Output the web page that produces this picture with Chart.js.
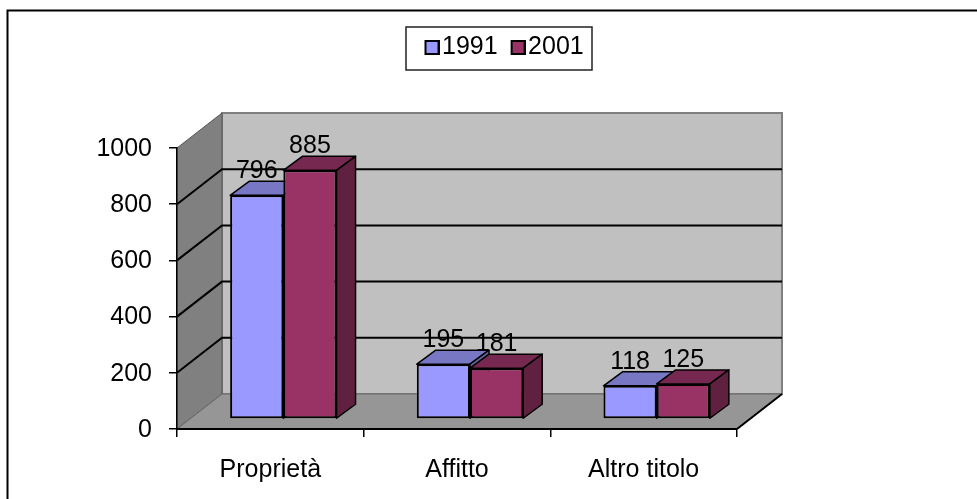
<!DOCTYPE html>
<html><head><meta charset="utf-8">
<style>html,body{margin:0;padding:0;background:#fff}canvas{display:block}</style>
<script src="https://cdn.jsdelivr.net/npm/chart.js@4/dist/chart.umd.min.js"></script>
</head><body><canvas id="c" width="977" height="499"></canvas>
<script>
const categories = ['Proprietà', 'Affitto', 'Altro titolo'];
const seriesNames = ['1991', '2001'];
const values1991 = [796, 195, 118];
const values2001 = [885, 181, 125];
const yTicks = [0, 200, 400, 600, 800, 1000];
const frontColors = ['#9999FF', '#993366'];
const topColors = ['#7777C4', '#772850'];
const sideColors = ['#6666A3', '#602040'];

const FONT = 'Liberation Sans, Arial, sans-serif';
const FONT_SIZE = 25;
const AREA = {left: 177, top: 148, right: 737, bottom: 429};
const WALL = {dx: 45, dy: -35};
const BAR_SHIFT = {dx: 13, dy: -10};
const BAR_DEPTH = {dx: 19, dy: -14};
const LEGEND_BOX = {x: 406, y: 27, w: 186, h: 43};

function poly(ctx, pts, fill, stroke, lw) {
  ctx.beginPath();
  pts.forEach((p, i) => i ? ctx.lineTo(p[0], p[1]) : ctx.moveTo(p[0], p[1]));
  ctx.closePath();
  if (fill) { ctx.fillStyle = fill; ctx.fill(); }
  if (stroke) { ctx.strokeStyle = stroke; ctx.lineWidth = lw || 1; ctx.stroke(); }
}
function swatch(color) {
  const s = document.createElement('canvas');
  s.width = 21; s.height = 15;
  const g = s.getContext('2d');
  g.fillStyle = color; g.fillRect(6, 0, 15, 15);
  g.strokeStyle = '#000'; g.lineWidth = 2; g.strokeRect(7, 1, 13, 13);
  return s;
}
const swatches = frontColors.map(swatch);

const scene = {
  id: 'scene',
  afterLayout(chart) {
    const l = chart.legend;
    l.left = 411.5; l.right = 620; l.top = 18; l.bottom = 62;
  },
  beforeDraw(chart) {
    const ctx = chart.ctx, a = chart.chartArea, y = chart.scales.y;
    const d = WALL;
    ctx.save();
    ctx.strokeStyle = '#000'; ctx.lineWidth = 2;
    ctx.beginPath(); ctx.moveTo(7.5, 499); ctx.lineTo(7.5, 10.5); ctx.lineTo(977, 10.5); ctx.stroke();
    ctx.strokeStyle = '#222'; ctx.lineWidth = 1.5;
    ctx.strokeRect(LEGEND_BOX.x, LEGEND_BOX.y, LEGEND_BOX.w, LEGEND_BOX.h);
    const t = a.top, b = a.bottom, lft = a.left, r = a.right;
    poly(ctx, [[lft + d.dx, t + d.dy], [r + d.dx, t + d.dy], [r + d.dx, b + d.dy], [lft + d.dx, b + d.dy]], '#C0C0C0', '#808080', 2);
    poly(ctx, [[lft, t], [lft + d.dx, t + d.dy], [lft + d.dx, b + d.dy], [lft, b]], '#808080', '#555', 1);
    poly(ctx, [[lft, b], [lft + d.dx, b + d.dy], [r + d.dx, b + d.dy], [r, b]], '#969696', '#666', 1);
    ctx.strokeStyle = '#000'; ctx.lineWidth = 2;
    yTicks.slice(1, -1).forEach(v => {
      const py = y.getPixelForValue(v);
      ctx.beginPath(); ctx.moveTo(lft, py); ctx.lineTo(lft + d.dx, py + d.dy); ctx.lineTo(r + d.dx, py + d.dy); ctx.stroke();
    });
    ctx.beginPath(); ctx.moveTo(r, b); ctx.lineTo(r + d.dx, b + d.dy); ctx.stroke();
    ctx.restore();
  },
  beforeDatasetsDraw(chart) {
    const ctx = chart.ctx, d = BAR_DEPTH;
    ctx.save();
    ctx.translate(BAR_SHIFT.dx, BAR_SHIFT.dy);
    ctx.lineJoin = 'round';
    chart.data.datasets.forEach((ds, i) => {
      chart.getDatasetMeta(i).data.forEach(el => {
        const p = el.getProps(['x', 'y', 'base', 'width']);
        const l = p.x - p.width / 2, r = p.x + p.width / 2;
        poly(ctx, [[l, p.y], [l + d.dx, p.y + d.dy], [r + d.dx, p.y + d.dy], [r, p.y]], topColors[i], '#000', 1.5);
        poly(ctx, [[r, p.y], [r + d.dx, p.y + d.dy], [r + d.dx, p.base + d.dy], [r, p.base]], sideColors[i], '#000', 1.5);
        el.draw(ctx);
      });
    });
    ctx.fillStyle = '#000';
    ctx.font = FONT_SIZE + 'px ' + FONT;
    ctx.textAlign = 'center';
    ctx.textBaseline = 'alphabetic';
    chart.data.datasets.forEach((ds, i) => {
      chart.getDatasetMeta(i).data.forEach((el, j) => {
        ctx.fillText(String(ds.data[j]), el.x, el.y - 17);
      });
    });
    ctx.restore();
    return false;
  }
};

const chart = new Chart(document.getElementById('c'), {
  type: 'bar',
  data: {
    labels: categories,
    datasets: [
      {label: seriesNames[0], data: values1991, backgroundColor: frontColors[0], borderColor: '#000', borderWidth: 2, borderSkipped: false},
      {label: seriesNames[1], data: values2001, backgroundColor: frontColors[1], borderColor: '#000', borderWidth: 2, borderSkipped: false}
    ]
  },
  options: {
    responsive: false, animation: false, events: [],
    layout: {padding: {left: 0, right: 240, top: 80, bottom: 0}},
    datasets: {bar: {categoryPercentage: 0.57, barPercentage: 1}},
    plugins: {
      tooltip: {enabled: false},
      title: {display: false},
      legend: {
        display: true, position: 'top', align: 'start',
        labels: {
          usePointStyle: true, pointStyleWidth: 1, boxHeight: 15, padding: 17,
          color: '#000', font: {family: FONT, size: FONT_SIZE},
          generateLabels(c) {
            return c.data.datasets.map((ds, i) => ({
              text: ds.label, datasetIndex: i, pointStyle: swatches[i],
              fillStyle: ds.backgroundColor, strokeStyle: '#000', lineWidth: 2
            }));
          }
        }
      }
    },
    scales: {
      x: {
        offset: true,
        grid: {display: true, drawOnChartArea: false, drawTicks: true, tickLength: 8, color: '#000', lineWidth: 1.5},
        border: {display: true, color: '#000', width: 2},
        ticks: {color: '#000', font: {family: FONT, size: FONT_SIZE}, padding: 18, maxRotation: 0, autoSkip: false},
        afterFit(s) { s.height = 70; }
      },
      y: {
        min: 0, max: 1000,
        afterBuildTicks(s) { s.ticks = yTicks.map(v => ({value: v})); },
        grid: {display: true, drawOnChartArea: false, drawTicks: true, tickLength: 8, color: '#000', lineWidth: 1.5},
        border: {display: true, color: '#000', width: 1.5},
        ticks: {color: '#000', font: {family: FONT, size: FONT_SIZE}, padding: 17, labelOffset: 1, callback: v => String(v)},
        afterFit(s) { s.width = AREA.left; }
      }
    }
  },
  plugins: [scene]
});
const pad = chart.options.layout.padding;
pad.top += AREA.top - chart.chartArea.top;
pad.right += chart.chartArea.right - AREA.right;
chart.update('none');
</script></body></html>
